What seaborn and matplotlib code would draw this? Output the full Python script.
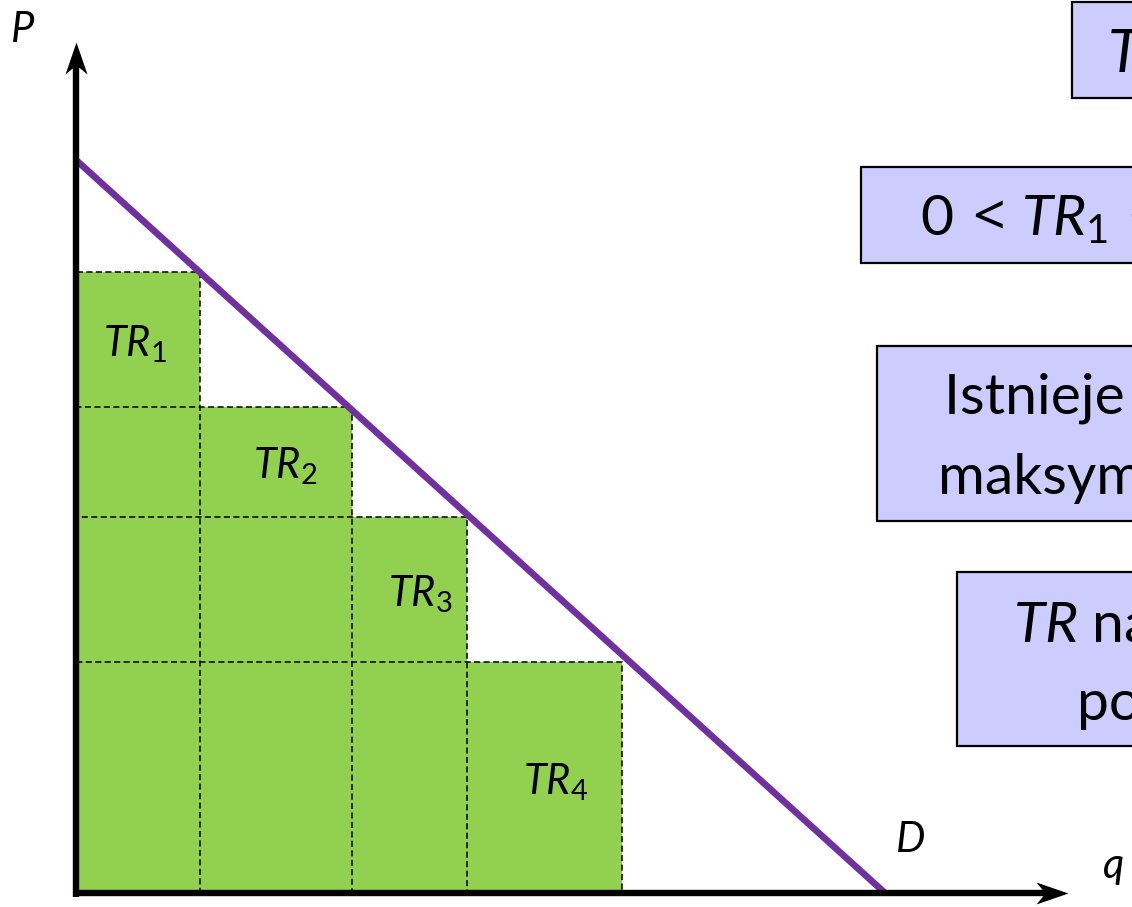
import numpy as np
import pandas as pd
import matplotlib.pyplot as plt
import seaborn as sns
from matplotlib.patches import Rectangle
from matplotlib.path import Path

# demand curve D (quantity q, price P)
demand_q = [0.0, 10.0]
demand_p = [10.0, 0.0]

# four price/quantity points on D -> revenue rectangles TR1..TR4
rect_q = [1.53, 3.41, 4.83, 6.75]
rect_p = [8.47, 6.63, 5.13, 3.15]
rect_names = ['1', '2', '3', '4']
label_dx = [-0.04, 0.11, 0.13, 0.14]   # small nudges of the TR labels

# axis arrow lengths (data units)
q_axis_end = 12.26
p_axis_end = 11.61

# side boxes (text lines, clipped by the right edge as in the slide)
box1_lines = [r'$\mathit{TR}$ = $\mathit{P}$ · $\mathit{q}$']
box2_lines = [r'$\mathrm{0}\:\mathsf{<}\,\mathit{TR}_{1}\:\mathsf{<}\,\mathit{TR}_{2}'
              r'\:\mathsf{<}\,\mathit{TR}_{3}\:\mathsf{>}\,\mathit{TR}_{4}$']
box3_lines = ['Istnieje cena, przy której TR jest', 'maksymalny']
box4_lines = [r'$\mathit{TR}$ najpierw rośnie,', 'potem maleje']

sns.set_theme(style='white')
plt.rcParams['font.family'] = ['Lato', 'DejaVu Sans']
plt.rcParams['text.color'] = 'black'
plt.rcParams['mathtext.fontset'] = 'custom'
plt.rcParams['mathtext.rm'] = 'Lato'
plt.rcParams['mathtext.it'] = 'Lato:italic'
plt.rcParams['mathtext.bf'] = 'Lato:bold'
plt.rcParams['mathtext.sf'] = 'Noto Sans'

GREEN = '#92D050'
PURPLE = '#7030A0'
BOXFILL = '#CCCCFF'

fig = plt.figure(figsize=(11.32, 9.07), dpi=100)
ax = fig.add_axes([0, 0, 1, 1])
ax.set_xlim(-0.9394, 13.053)
ax.set_ylim(-0.191, 12.183)
ax.axis('off')

# green rectangles, then dashed outlines on top
ax.bar([0] * 4, rect_p, width=rect_q, align='edge', color=GREEN, lw=0, zorder=1)
ax.bar([0] * 4, rect_p, width=rect_q, align='edge', fill=False,
       edgecolor='black', lw=1.1, linestyle=(0, (4, 2.2)), zorder=2)

# labels in the step of each rectangle
prev_q = [0] + rect_q[:-1]
next_p = rect_p[1:] + [0]
for q0, q1, p0, p1, n, dx in zip(prev_q, rect_q, next_p, rect_p, rect_names, label_dx):
    ax.text((q0 + q1) / 2 + dx, (p0 + p1) / 2 - 0.06, r'$\mathit{TR}_{%s}$' % n,
            ha='center', va='center', fontsize=30, zorder=3)

# demand line
df = pd.DataFrame({'q': demand_q, 'P': demand_p})
sns.lineplot(data=df, x='q', y='P', color=PURPLE, lw=4.8, ax=ax, zorder=4)
ax.lines[-1].set_solid_capstyle('butt')

# axes with stealth arrow heads
ax.plot([0, q_axis_end - 0.2], [0, 0], color='black', lw=4.6, zorder=5,
        solid_capstyle='butt')
ax.plot([0, 0], [-0.05, p_axis_end - 0.2], color='black', lw=4.6, zorder=5,
        solid_capstyle='butt')
head = Path([(0, 0), (-32, 11), (-23, 0), (-32, -11), (0, 0)],
            [Path.MOVETO, Path.LINETO, Path.LINETO, Path.LINETO, Path.CLOSEPOLY])
head_up = Path([(0, 0), (11, -32), (0, -23), (-11, -32), (0, 0)],
               [Path.MOVETO, Path.LINETO, Path.LINETO, Path.LINETO, Path.CLOSEPOLY])
ax.plot(q_axis_end, 0, marker=head, markersize=46, color='black', mew=0, zorder=6)
ax.plot(0, p_axis_end, marker=head_up, markersize=46, color='black', mew=0, zorder=6)

ax.text(-0.81, p_axis_end, 'P', style='italic', fontsize=30, va='baseline', ha='left')
ax.text(12.69, 0.2, 'q', style='italic', fontsize=30, va='baseline', ha='left')
ax.text(10.13, 0.56, 'D', style='italic', fontsize=30, va='baseline', ha='left')

# overlay in pixel units for the text boxes
ov = fig.add_axes([0, 0, 1, 1])
ov.set_xlim(0, 1132)
ov.set_ylim(907, 0)
ov.axis('off')
ov.patch.set_visible(False)

boxes = [
    (1072, 2, 96, box1_lines, [(1107, 72)], 43),
    (861, 167, 96, box2_lines, [(920, 235)], 41),
    (877, 346, 175, box3_lines, [(944, 414), (938, 494)], 41),
    (957, 572, 174, box4_lines, [(1013, 641), (1077, 719)], 41),
]
for x0, y0, h, lines, pos, fs in boxes:
    ov.add_patch(Rectangle((x0, y0), 600, h, facecolor=BOXFILL,
                           edgecolor='black', lw=1.6, clip_on=True))
    for line, (tx, ty) in zip(lines, pos):
        ov.text(tx, ty, line, fontsize=fs, ha='left', va='baseline', clip_on=True)

fig.savefig('out.png', dpi=100)
